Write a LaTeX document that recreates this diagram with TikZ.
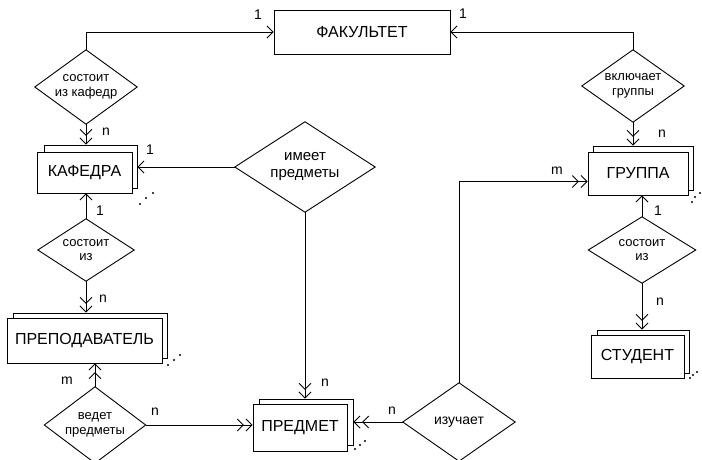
\documentclass[tikz,border=0pt]{standalone}
\usepackage{fontspec}
\setmainfont{Liberation Sans}
\usetikzlibrary{arrows.meta,calc}
\begin{document}
\begin{tikzpicture}[x=1pt,y=-1pt,
  ent/.style={draw, fill=white, line width=0.9pt, inner sep=0pt, font=\fontsize{16}{18}\selectfont},
  rel/.style={inner sep=0pt, align=center, font=\fontsize{13}{14.5}\selectfont},
  card/.style={inner sep=0pt, font=\fontsize{14}{14}\selectfont},
  con/.style={line width=0.9pt},
  one/.style={con, -{Straight Barb[length=6pt,width=12pt]}},
  many/.style={con, -{Straight Barb[length=6pt,width=12pt,sep=1.5pt] Straight Barb[length=6pt,width=12pt]}}
]
\useasboundingbox (0,0) rectangle (702,460);
\clip (0,0) rectangle (702,460);

% entities
\node[ent, minimum width=176pt, minimum height=44pt] (fac) at (362,32) {ФАКУЛЬТЕТ};

\node[ent, minimum width=93pt, minimum height=43pt] (kafB) at (90.5,166.5) {};
\node[ent, minimum width=95pt, minimum height=41pt] (kaf) at (84.5,172.5) {КАФЕДРА};

\node[ent, minimum width=154pt, minimum height=45pt] (prepB) at (90,335.5) {};
\node[ent, minimum width=155pt, minimum height=45pt] (prep) at (84.5,340.5) {ПРЕПОДАВАТЕЛЬ};

\node[ent, minimum width=94pt, minimum height=46pt] (predB) at (306,422) {};
\node[ent, minimum width=94pt, minimum height=47pt] (pred) at (300,427.5) {ПРЕДМЕТ};

\node[ent, minimum width=100pt, minimum height=44pt] (gruB) at (643,168) {};
\node[ent, minimum width=100pt, minimum height=43pt] (gru) at (638,173.5) {ГРУППА};

\node[ent, minimum width=92pt, minimum height=43pt] (stuB) at (643,351.5) {};
\node[ent, minimum width=93pt, minimum height=43pt] (stu) at (637.5,356.5) {СТУДЕНТ};

% multiplicity dots
\foreach \p in {(140,204),(146,198),(153,193),
                (168,365),(174,360),(180,355),
                (355,449),(360,445),(365,441),
                (692,202),(695,197),(700,193),
                (690,378),(693,375),(697,372)}
  \fill \p circle (1.2);

% relationships
\node[rel, minimum width=102pt, minimum height=74pt] (d1) at (86,87) {состоит\\из кафедр};
\node[rel, minimum width=140pt, minimum height=90pt, font=\fontsize{15}{17}\selectfont] (d2) at (305,167) {имеет\\предметы};
\node[rel, minimum width=96pt, minimum height=62pt] (d3) at (86,250) {состоит\\из};
\node[rel, minimum width=101pt, minimum height=76pt] (d4) at (95,425) {ведет\\предметы};
\node[rel, minimum width=112pt, minimum height=78pt, font=\fontsize{14}{16}\selectfont] (d5) at (459,422) {изучает};
\node[rel, minimum width=102pt, minimum height=72pt] (d6) at (633,86) {включает\\группы};
\node[rel, minimum width=107pt, minimum height=66pt] (d7) at (642,250) {состоит\\из};
\foreach \d in {d1,d2,d3,d4,d5,d6,d7}
  \draw[con] (\d.north) -- (\d.east) -- (\d.south) -- (\d.west) -- cycle;

% connectors
\draw[one] (d1.north) |- (fac.west);
\draw[one] (d6.north) |- (fac.east);
\draw[many] (d1.south) -- (d1.south |- kafB.north);
\draw[one] (d2.west) -- (d2.west -| kafB.east);
\draw[one] (d3.north) -- (d3.north |- kaf.south);
\draw[many] (d3.south) -- (d3.south |- prepB.north);
\draw[many] (d4.north) -- (d4.north |- prep.south);
\draw[many] (d4.east) -- (d4.east -| pred.west);
\draw[many] (d2.south) -- (d2.south |- predB.north);
\draw[many] (d5.west) -- (d5.west -| predB.east);
\draw[many] (d5.north) |- ([yshift=-8pt]gru.west);
\draw[many] (d6.south) -- (d6.south |- gruB.north);
\draw[one] (d7.north) -- (d7.north |- gru.south);
\draw[many] (d7.south) -- (d7.south |- stuB.north);

% cardinalities
\node[card] (c1) at (258,15) {1};
\node[card] (c2) at (463,14) {1};
\node[card] (c3) at (106,132) {n};
\node[card] (c4) at (150,150) {1};
\node[card] (c5) at (100,211) {1};
\node[card] (c6) at (103,299) {n};
\node[card] (c7) at (67,381) {m};
\node[card] (c8) at (155,412) {n};
\node[card] (c9) at (325,383) {n};
\node[card] (c10) at (392,411) {n};
\node[card] (c11) at (662,134) {n};
\node[card] (c12) at (557,171) {m};
\node[card] (c13) at (658,211) {1};
\node[card] (c14) at (660,302) {n};
\end{tikzpicture}
\end{document}
